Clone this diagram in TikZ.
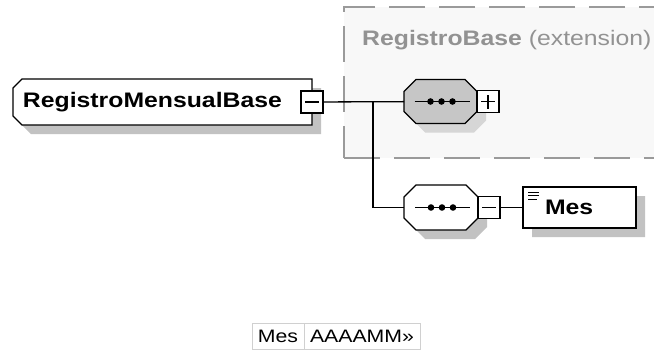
\documentclass[tikz,border=0pt]{standalone}
\usepackage{fontspec}
\setmainfont{Liberation Sans}[FakeStretch=1.18]
\usetikzlibrary{backgrounds,positioning}

\definecolor{seqgray}{HTML}{C6C6C6}
\definecolor{shadegray}{HTML}{C2C2C2}
\definecolor{shadelight}{HTML}{D6D6D6}
\definecolor{extgray}{HTML}{9A9A9A}
\definecolor{extfill}{HTML}{F8F8F8}
\definecolor{cellline}{HTML}{D0D0D0}

\newcommand{\lblfont}{\fontsize{21}{24}\selectfont}
\newcommand{\seqdots}[1]{%
  \draw[line width=1.3pt] ([xshift=-26pt]#1.center) -- ([xshift=29pt]#1.center);
  \foreach \dx in {-10,1,12} \fill ([xshift=\dx pt]#1.center) circle (3.3pt);
}

\tikzset{
  conn/.style={line width=1.3pt},
  elem/.style={inner sep=0pt, outer sep=0pt, font=\lblfont\bfseries},
  % outline with cut corners: node, left cut, right cut
  bevel/.style n args={3}{insert path={
    ([xshift=#2]#1.north west) -- ([xshift=-#3]#1.north east) -- ([yshift=-#3]#1.north east)
    -- ([yshift=#3]#1.south east) -- ([xshift=-#3]#1.south east) -- ([xshift=#2]#1.south west)
    -- ([yshift=#2]#1.south west) -- ([yshift=-#2]#1.north west) -- cycle}},
  shade/.style={transform canvas={shift={(9pt,-9pt)}}},
  frame/.style={draw, line width=1.3pt},
  minusbox/.style={draw, fill=white, line width=1.3pt, minimum size=22pt, inner sep=0pt,
    outer sep=0pt, path picture={\draw[line width=1.3pt]
      ([xshift=-7pt]path picture bounding box.center) -- ([xshift=7pt]path picture bounding box.center);}},
  plusbox/.style={draw, fill=white, line width=1.3pt, minimum size=22pt, inner sep=0pt,
    outer sep=0pt, path picture={\draw[line width=1.3pt]
      ([xshift=-7pt]path picture bounding box.center) -- ([xshift=7pt]path picture bounding box.center)
      ([yshift=-7pt]path picture bounding box.center) -- ([yshift=7pt]path picture bounding box.center);}},
  extbox/.style={draw=extgray, fill=extfill, line width=1.2pt, dash pattern=on 36pt off 14pt,
    inner sep=0pt, outer sep=0pt},
  cell/.style={draw=cellline, line width=1pt, minimum height=26pt, inner sep=0pt, outer sep=0pt,
    font=\fontsize{18}{20}\selectfont}
}

\begin{document}
\begin{tikzpicture}[x=1pt, y=-1pt]
  \useasboundingbox (0,0) rectangle (654,351);
  \clip (0,0) rectangle (654,351);

  % nodes
  \node[elem, minimum width=299pt, minimum height=46pt, text width=279pt, align=left,
    inner xsep=10pt] (root) at (162.5,102) {RegistroMensualBase};
  \node[minusbox] (mroot) at (root.east) {};

  \node[elem, minimum width=73pt, minimum height=44pt] (seq1) at (440.5,101.5) {};
  \node[plusbox, right=0pt of seq1] (p1) {};
  \node[elem, minimum width=74pt, minimum height=45pt] (seq2) at (441,207.5) {};
  \node[minusbox, right=0pt of seq2] (m2) {};

  \node[elem, minimum width=113pt, minimum height=41pt, text width=69pt, align=left,
    inner xsep=22pt] (mes) at (579.5,207.5) {Mes};

  \node[anchor=base west, inner sep=0pt, text=extgray!95!black, font=\lblfont] (exttitle)
    at (362,45) {\textbf{RegistroBase} (extension)};

  % frames and shadows behind
  \begin{scope}[on background layer]
    \node[extbox, minimum width=340pt, minimum height=151pt, anchor=north west] (ext) at (344,7) {};
    \fill[shadegray, shade, bevel={root}{9pt}{0pt}];
    \filldraw[frame, fill=white, bevel={root}{9pt}{0pt}];
    \fill[shadelight, shade, bevel={seq1}{12pt}{12pt}];
    \filldraw[frame, fill=seqgray, bevel={seq1}{12pt}{12pt}];
    \fill[shadegray, shade, bevel={seq2}{12pt}{12pt}];
    \filldraw[frame, fill=white, bevel={seq2}{12pt}{12pt}];
    \fill[shadegray, shade, bevel={mes}{0pt}{0pt}];
    \filldraw[frame, fill=white, bevel={mes}{0pt}{0pt}];
  \end{scope}
  \seqdots{seq1}
  \seqdots{seq2}
  \foreach \dy/\len in {5/11,8.5/11,12/9}
    \draw[line width=1pt] ([shift={(5pt,-\dy pt)}]mes.north west) -- ++(\len,0);

  % connectors
  \coordinate (fork) at (373,102);
  \draw[conn] (mroot) -- (seq1);
  \draw[conn] (fork) |- (seq2);
  \draw[conn] (m2) -- (mes);

  % facets table
  \node[cell, minimum width=52pt] (tmes) at (278,336) {Mes};
  \node[cell, minimum width=116pt, right=0pt of tmes] (tfmt) {AAAAMM»};
\end{tikzpicture}
\end{document}
